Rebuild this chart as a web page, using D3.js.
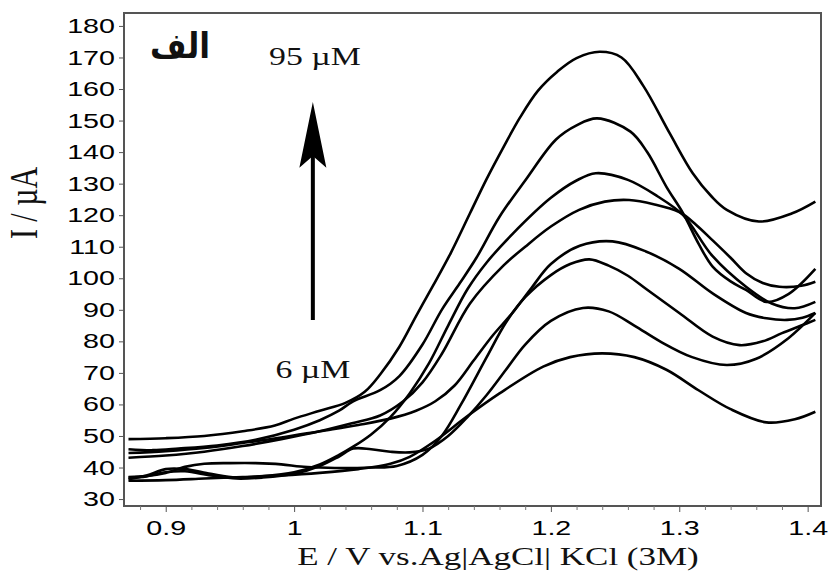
<!DOCTYPE html>
<html>
<head>
<meta charset="utf-8">
<script src="https://cdn.jsdelivr.net/npm/d3@7"></script>
<style>
  body { margin: 0; background: #fff; }
  svg { display: block; }
</style>
</head>
<body>
<div id="chart"></div>
<script>
// DPV curves, [E (V), I (uA)], highest concentration first
var curve95 = [[0.871,49],[0.90,49.3],[0.93,50],[0.96,51.5],[0.985,53.3],[1.0,55.5],[1.02,58],[1.04,60.5],[1.055,64],[1.067,69.5],[1.082,78.3],[1.095,88],[1.108,97.5],[1.122,108],[1.137,120.6],[1.15,131.5],[1.163,141.5],[1.176,151],[1.19,159.5],[1.205,165.5],[1.22,169.8],[1.238,171.8],[1.255,170],[1.272,161],[1.2925,146],[1.3105,133.3],[1.325,126],[1.337,121.7],[1.362,118],[1.388,120.6],[1.406,124.3]];
var curveB = [[0.871,45.8],[0.89,45.5],[0.91,46],[0.94,47],[0.97,48.8],[1.0,52],[1.02,55],[1.035,58],[1.046,61],[1.067,64.5],[1.082,69],[1.1,79],[1.115,90],[1.129,98.4],[1.142,106.5],[1.16,119.5],[1.18,131],[1.204,144],[1.22,148.5],[1.236,150.7],[1.262,146.5],[1.275,140],[1.29,129],[1.303,120.6],[1.315,111],[1.326,103.7],[1.34,99],[1.352,96.3],[1.368,92.5],[1.385,95],[1.406,103]];
var curveC = [[0.871,36.3],[0.885,37.5],[0.9,39.5],[0.915,39.5],[0.935,38],[0.955,36.8],[0.975,37.2],[1.0,38.5],[1.02,41],[1.035,44],[1.046,46.6],[1.06,50.5],[1.075,56],[1.09,63.5],[1.105,73],[1.12,85],[1.135,96.5],[1.15,105],[1.17,114],[1.2,125.5],[1.22,131],[1.235,133.3],[1.26,131.2],[1.283,126],[1.303,120],[1.326,107],[1.352,97.3],[1.372,92],[1.39,90.5],[1.406,92.5]];
var curveD = [[0.871,43.1],[0.9,43.8],[0.93,45],[0.96,46.8],[0.99,49],[1.02,51.5],[1.045,54],[1.067,56.5],[1.085,61],[1.1,67],[1.115,76],[1.137,92],[1.163,104],[1.18,110],[1.2,116.4],[1.222,121.7],[1.242,124.3],[1.261,124.8],[1.28,123.5],[1.3,121],[1.313,117],[1.326,112],[1.34,106.5],[1.352,101.6],[1.365,98.5],[1.378,97.3],[1.395,97.6],[1.406,98.9]];
var curveE = [[0.871,44.6],[0.9,45.2],[0.93,46.2],[0.96,47.8],[0.99,49.5],[1.02,51.5],[1.05,53.5],[1.075,55.5],[1.095,58],[1.11,61],[1.125,66],[1.14,74],[1.155,82],[1.17,89],[1.185,97],[1.2,104.5],[1.2225,110.3],[1.248,111.7],[1.274,108.5],[1.3,103],[1.326,95.2],[1.352,89],[1.368,87.3],[1.384,86.8],[1.396,87.5],[1.406,89]];
var curveF = [[0.871,37],[0.885,37.3],[0.9,38.3],[0.915,40.2],[0.93,41.2],[0.95,41.4],[0.97,41.4],[0.99,41],[1.005,40.3],[1.02,40],[1.04,39.8],[1.06,40],[1.08,40.5],[1.1,44],[1.115,50],[1.13,60],[1.15,75],[1.165,86],[1.18,94],[1.2,101],[1.215,104.5],[1.23,106],[1.245,104],[1.26,100.8],[1.2745,96.5],[1.3,89],[1.326,81.5],[1.347,78.8],[1.365,80],[1.38,82.6],[1.395,85],[1.406,86.8]];
var curveG = [[0.871,36.8],[0.885,37.2],[0.9,38.5],[0.915,38.8],[0.935,37.5],[0.955,36.5],[0.975,36.8],[1.0,38],[1.02,40.5],[1.035,43.5],[1.046,46],[1.06,45.8],[1.075,45],[1.09,44.8],[1.105,46],[1.12,50],[1.135,56],[1.15,63],[1.165,71],[1.18,79],[1.2,86.5],[1.225,90.6],[1.245,89.5],[1.265,85],[1.285,80],[1.31,75],[1.337,72.5],[1.36,74.5],[1.385,81],[1.406,89]];
var curve6 = [[0.871,35.8],[0.9,36],[0.93,36.5],[0.96,37],[0.99,37.5],[1.02,38.3],[1.05,39.5],[1.075,41.2],[1.09,43.4],[1.11,48.5],[1.134,56],[1.16,63.5],[1.194,72],[1.215,75],[1.24,76.2],[1.265,75],[1.29,71],[1.315,64.5],[1.34,58.5],[1.368,54.3],[1.39,55.3],[1.406,57.7]];

var curves = [curve95, curveB, curveC, curveD, curveE, curveF, curveG, curve6];

var xTicks = [0.9, 1, 1.1, 1.2, 1.3, 1.4];
var xMinorTicks = [0.88, 0.92, 0.94, 0.96, 0.98, 1.02, 1.04, 1.06, 1.08, 1.12, 1.14, 1.16, 1.18, 1.22, 1.24, 1.26, 1.28, 1.32, 1.34, 1.36, 1.38];
var yTicks = [30, 40, 50, 60, 70, 80, 90, 100, 110, 120, 130, 140, 150, 160, 170, 180];

// the original picture is stretched sideways, so text gets the same stretch
var STRETCH = 1.4;

var W = 830, H = 571;
var margin = {top: 13, right: 9, bottom: 65, left: 124};

var svg = d3.select("#chart").append("svg")
    .attr("width", W)
    .attr("height", H);

var x = d3.scaleLinear().domain([0.8675, 1.4104]).range([margin.left, W - margin.right]);
var y = d3.scaleLinear().domain([27.8, 184.1]).range([H - margin.bottom, margin.top]);

// frame
svg.append("rect")
    .attr("x", margin.left)
    .attr("y", margin.top)
    .attr("width", W - margin.left - margin.right)
    .attr("height", H - margin.top - margin.bottom)
    .attr("fill", "none")
    .attr("stroke", "#555")
    .attr("stroke-width", 2);

// y axis
var yAxis = svg.append("g")
    .attr("transform", "translate(" + margin.left + ",0)")
    .call(d3.axisLeft(y).tickValues(yTicks).tickSize(5).tickPadding(4));
yAxis.select(".domain").remove();
yAxis.selectAll("line").attr("stroke", "#555");
yAxis.selectAll("text")
    .attr("x", -9 / STRETCH)
    .attr("transform", "scale(" + STRETCH + ",1)")
    .style("font-family", "'Liberation Sans', Arial, sans-serif")
    .style("font-size", "20.5px")
    .attr("fill", "#000");

// x axis, minor ticks first
var xMinor = svg.append("g")
    .attr("transform", "translate(0," + (H - margin.bottom) + ")")
    .call(d3.axisBottom(x).tickValues(xMinorTicks).tickSize(4).tickFormat(""));
xMinor.select(".domain").remove();
xMinor.selectAll("line").attr("stroke", "#777");

var xAxis = svg.append("g")
    .attr("transform", "translate(0," + (H - margin.bottom) + ")")
    .call(d3.axisBottom(x).tickValues(xTicks).tickSize(6).tickPadding(8).tickFormat(d3.format("")));
xAxis.select(".domain").remove();
xAxis.selectAll("line").attr("stroke", "#555");
xAxis.selectAll("text")
    .attr("transform", "scale(" + STRETCH + ",1)")
    .style("font-family", "'Liberation Sans', Arial, sans-serif")
    .style("font-size", "20.5px")
    .attr("fill", "#000");

// curves
var line = d3.line()
    .x(function(d) { return x(d[0]); })
    .y(function(d) { return y(d[1]); })
    .curve(d3.curveCatmullRom.alpha(0.5));

svg.append("g").selectAll("path")
    .data(curves)
    .enter()
    .append("path")
    .attr("d", line)
    .attr("fill", "none")
    .attr("stroke", "#000")
    .attr("stroke-width", 2.6)
    .attr("stroke-linejoin", "round");

// arrow: 6 uM -> 95 uM
var arrowE = 1.0146;
var ax = x(arrowE);
svg.append("line")
    .attr("x1", ax).attr("x2", ax)
    .attr("y1", y(86.8)).attr("y2", y(140))
    .attr("stroke", "#000")
    .attr("stroke-width", 4);
svg.append("path")
    .attr("d", "M" + ax + "," + y(155.9) +
               "L" + (ax + 13.5) + "," + y(135) +
               "L" + ax + "," + y(138.8) +
               "L" + (ax - 13.5) + "," + y(135) + "Z")
    .attr("fill", "#000");

function stretchedText(px, py, str, size, family, sx, weight) {
    return svg.append("text")
        .attr("transform", "translate(" + px + "," + py + ") scale(" + sx + ",1)")
        .attr("text-anchor", "middle")
        .style("font-family", family)
        .style("font-size", size + "px")
        .style("font-weight", weight || "normal")
        .attr("fill", "#111")
        .text(str);
}

var serif = "'Liberation Serif', 'Times New Roman', serif";
stretchedText(ax + 2, 65, "95 \u00b5M", 26, serif, 1.3);
stretchedText(ax, 378, "6 \u00b5M", 26, serif, 1.3);
stretchedText(180, 58, "الف", 35, "'DejaVu Sans', sans-serif", 0.9, "bold");

// axis titles
stretchedText(498, 565, "E / V vs.Ag|AgCl| KCl (3M)", 25, serif, STRETCH);

svg.append("text")
    .attr("transform", "translate(37,203) scale(1.35,1) rotate(-90)")
    .attr("text-anchor", "middle")
    .style("font-family", serif)
    .style("font-size", "30px")
    .attr("fill", "#111")
    .text("I / \u00b5A");
</script>
</body>
</html>
